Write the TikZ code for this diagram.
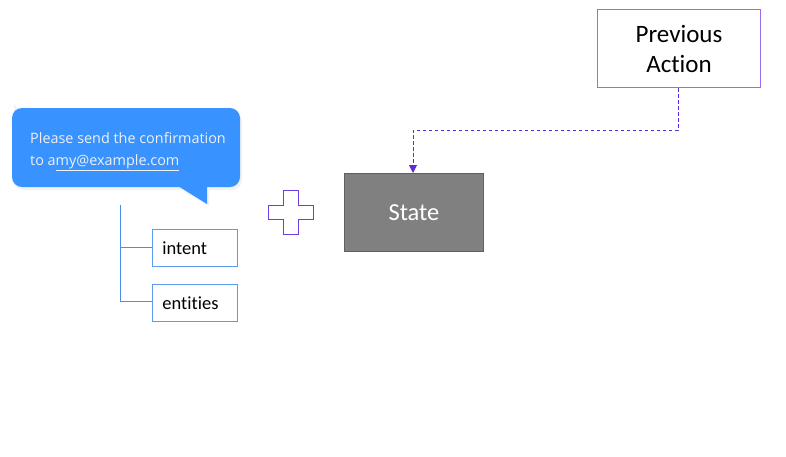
\documentclass[tikz,border=0pt]{standalone}
\usepackage{fontspec}
\setmainfont{Carlito}[RawFeature={-liga}]
\newfontfamily\bubblefont{Open Sans}
\usetikzlibrary{arrows.meta}
\definecolor{bubbleblue}{RGB}{56,146,255}
\definecolor{treeblue}{RGB}{74,144,235}
\definecolor{boxblue}{RGB}{90,156,240}
\definecolor{plusviolet}{RGB}{110,60,230}
\definecolor{prevviolet}{RGB}{155,108,240}
\definecolor{arrowviolet}{RGB}{90,45,224}
\definecolor{stategray}{RGB}{128,128,128}
\definecolor{stateedge}{RGB}{96,96,96}
\tikzset{
  treeline/.style={draw=treeblue, line width=0.9pt},
  slotbox/.style={draw=boxblue, line width=0.9pt, text width=65pt, minimum height=37pt, inner xsep=10pt, inner ysep=0pt, align=left, anchor=north west, font=\fontsize{18.5}{20}\selectfont, text=black},
  statebox/.style={draw=stateedge, fill=stategray, line width=0.9pt, minimum width=139pt, minimum height=78pt, anchor=north west, text=white, font=\fontsize{24.5}{26}\selectfont},
  prevbox/.style={draw=prevviolet, fill=white, line width=1pt, minimum width=163pt, minimum height=78pt, anchor=north west, align=center, text=black, font=\fontsize{25}{30}\selectfont},
  flowarrow/.style={draw=arrowviolet, line width=0.9pt, dash pattern=on 3.5pt off 2.5pt, -{Triangle[length=8pt,width=8pt]}},
  bubbletext/.style={anchor=base west, inner sep=0pt, text=white!94!black, font=\bubblefont\fontsize{14.4}{16}\selectfont}
}
\begin{document}
\begin{tikzpicture}[x=1pt,y=-1pt]
\useasboundingbox (0,0) rectangle (786,456);
% shadow of bubble
\begin{scope}
\clip (0,100) rectangle (243,205);
\fill[black, opacity=0.05] (14,111) [rounded corners=10pt] -- (14,111) -- (242,111) -- (242,190) -- (180,190) [sharp corners] -- (209,206) -- (209,190) [rounded corners=10pt] -- (14,190) -- cycle;
\end{scope}
% speech bubble
\fill[bubbleblue, rounded corners=10pt] (12,108) rectangle (240,187);
\fill[bubbleblue] (178,186) -- (207,204) -- (207,186) -- cycle;
\node[bubbletext] (l1) at (30,143) {Please send the confirmation};
\node[bubbletext] (l2) at (30,165) {to a\underline{my@example.com}};
% slot boxes
\node[slotbox] (intent) at (152,229) {intent};
\node[slotbox] (entities) at (152,284) {entities};
% tree
\coordinate (treetop) at (120,205);
\coordinate (treemid) at (120,247);
\coordinate (treebot) at (120,301);
\draw[treeline] (treetop) -- (treebot);
\draw[treeline] (treemid) -- (intent.west |- treemid);
\draw[treeline] (treebot) -- (entities.west |- treebot);
% plus
\draw[plusviolet, line width=1pt] (283,190) -- (298,190) -- (298,205) -- (313,205) -- (313,219) -- (298,219) -- (298,234) -- (283,234) -- (283,219) -- (268,219) -- (268,205) -- (283,205) -- cycle;
% state
\node[statebox] (state) at (344,173) {State};
% previous action
\node[prevbox] (prev) at (597,9) {Previous\\Action};
\coordinate (bend1) at (678,130);
\coordinate (bend2) at (413,130);
\draw[flowarrow] (prev.south -| bend1) -- (bend1) -- (bend2) -- (bend2 |- state.north);
\end{tikzpicture}
\end{document}
